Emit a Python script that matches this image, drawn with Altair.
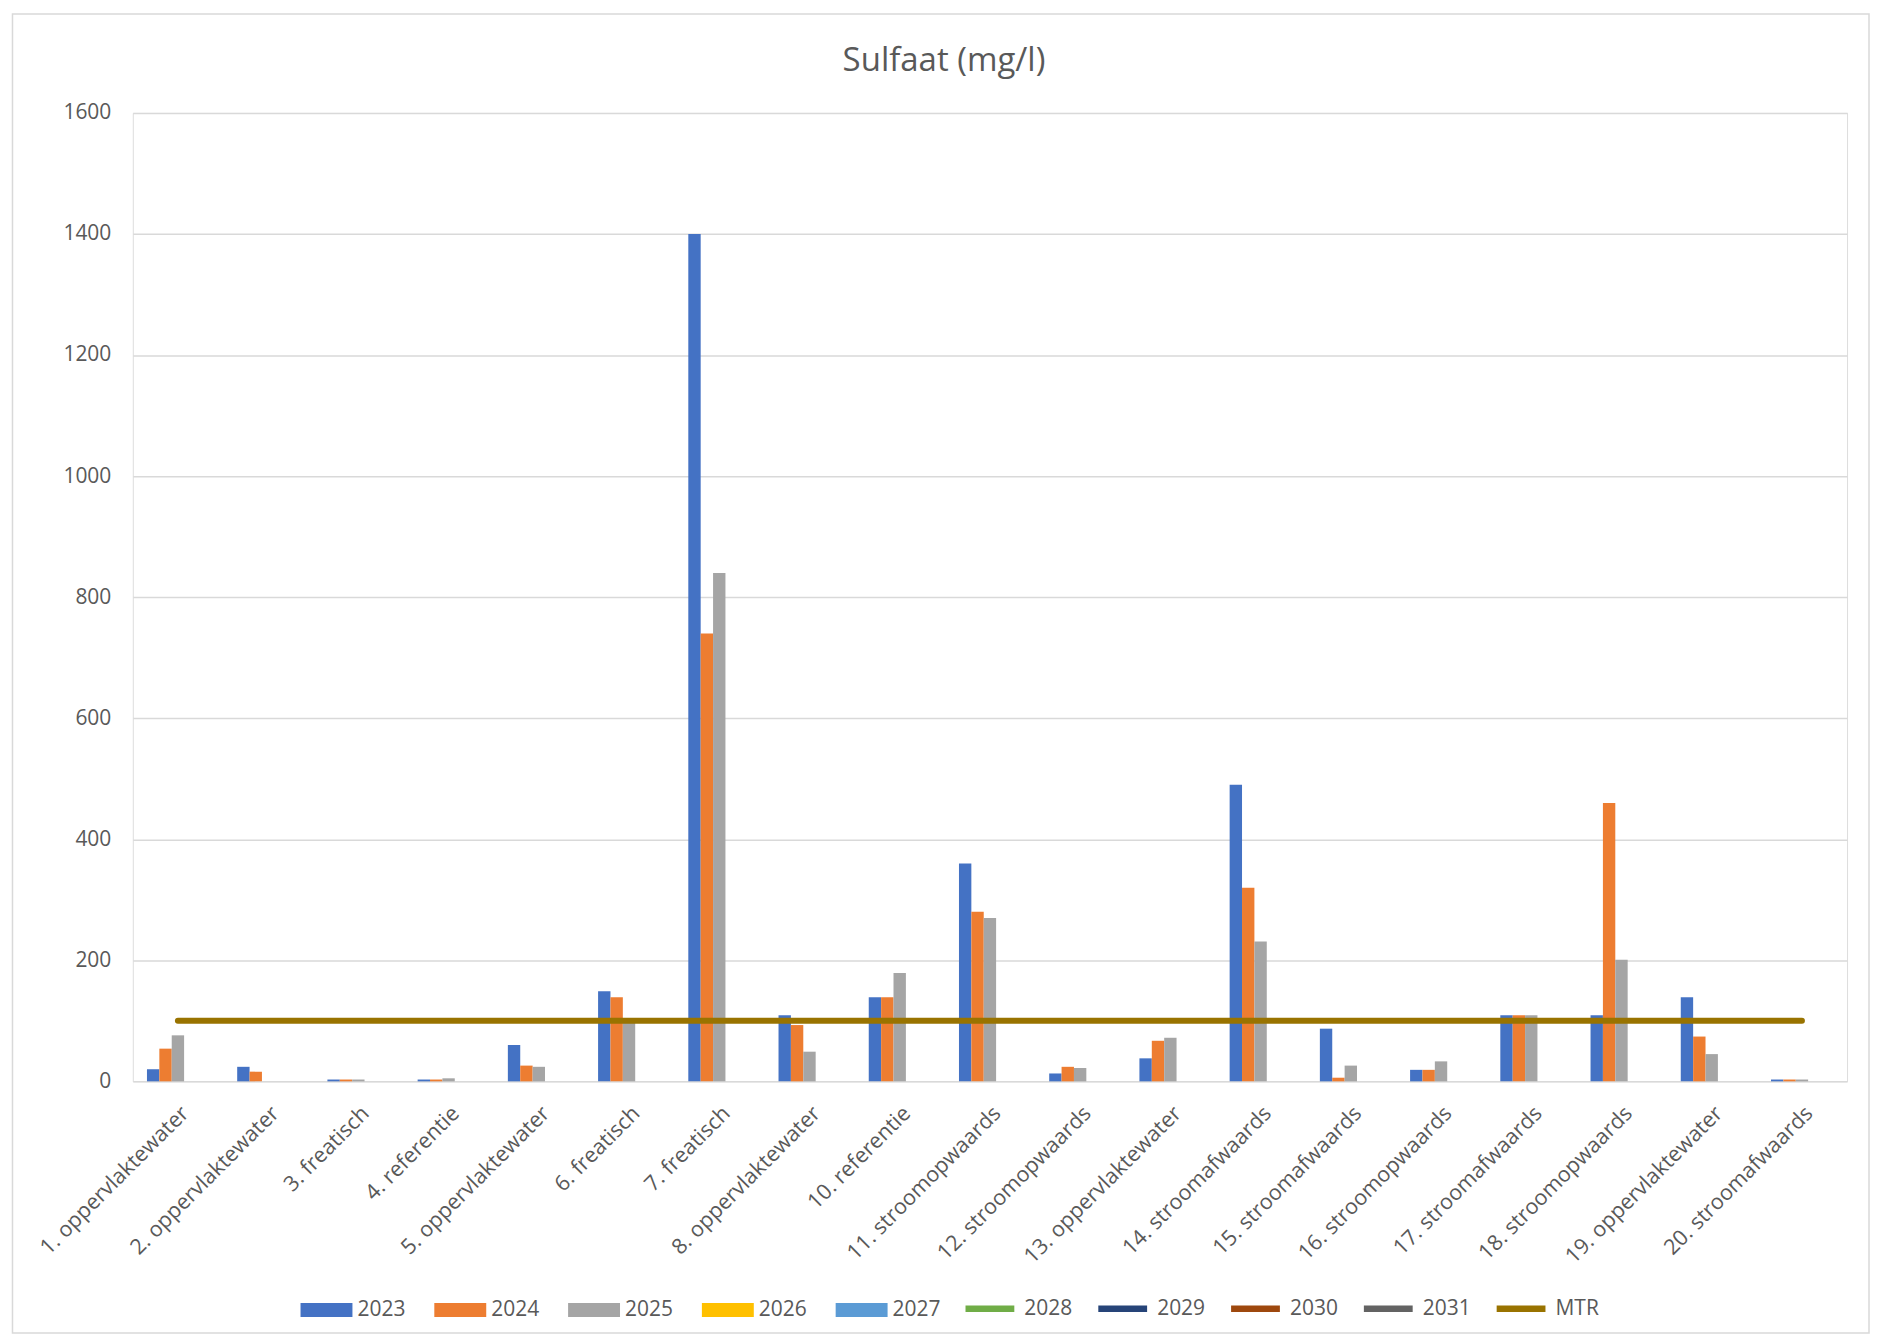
import altair as alt
import pandas as pd

categories = [
    "1. oppervlaktewater", "2. oppervlaktewater", "3. freatisch", "4. referentie",
    "5. oppervlaktewater", "6. freatisch", "7. freatisch", "8. oppervlaktewater",
    "10. referentie", "11. stroomopwaards", "12. stroomopwaards", "13. oppervlaktewater",
    "14. stroomafwaards", "15. stroomafwaards", "16. stroomopwaards", "17. stroomafwaards",
    "18. stroomopwaards", "19. oppervlaktewater", "20. stroomafwaards",
]
v2023 = [20, 24, 3, 3, 60, 149, 1400, 109, 139, 360, 13, 38, 490, 87, 19, 109, 109, 139, 3]
v2024 = [54, 16, 3, 3, 26, 139, 740, 93, 139, 280, 24, 67, 320, 6, 19, 109, 460, 74, 3]
v2025 = [76, None, 3, 5, 24, 100, 840, 49, 179, 270, 22, 72, 231, 26, 33, 109, 201, 45, 3]
mtr_value = 100

bar_series = ["2023", "2024", "2025", "2026", "2027"]
bar_colors = ["#4472C4", "#ED7D31", "#A5A5A5", "#FFC000", "#5B9BD5"]
line_series = ["2028", "2029", "2030", "2031", "MTR"]
line_colors = ["#70AD47", "#264478", "#9E480E", "#636363", "#997300"]

rows = []
for name, vals in [("2023", v2023), ("2024", v2024), ("2025", v2025)]:
    for c, v in zip(categories, vals):
        if v is not None:
            rows.append({"cat": c, "series": name, "value": v})
bars_df = pd.DataFrame(rows)
mtr_df = pd.DataFrame({"cat": categories, "series": "MTR", "value": mtr_value})

FONT = "Open Sans"
TXT = "#595959"

RECT = "M-1,-0.27L1,-0.27L1,0.27L-1,0.27Z"
HLINE = "M-0.94,0L0.94,0"

x_enc = alt.X(
    "cat:N", sort=categories, title=None,
    scale=alt.Scale(paddingInner=0.314, paddingOuter=0.157),
    axis=alt.Axis(labelAngle=-45, labelFont=FONT, labelFontSize=21.5, labelColor=TXT,
                  labelPadding=21, ticks=False, domain=False, grid=False, labelLimit=400),
)
y_enc = alt.Y(
    "value:Q", title=None,
    scale=alt.Scale(domain=[0, 1600], nice=False),
    axis=alt.Axis(values=list(range(0, 1601, 200)), format="d", labelFont=FONT, labelFontSize=21,
                  labelColor=TXT, labelPadding=22, ticks=False, domain=False,
                  grid=True, gridColor="#D9D9D9", gridWidth=1.5),
)

common_legend = dict(
    orient="none", direction="horizontal", columns=5,
    title=None, labelFont=FONT, labelFontSize=21, labelColor=TXT,
    symbolSize=2704, symbolOpacity=1, labelOffset=5,
)

bars = alt.Chart(bars_df).mark_bar().encode(
    x=x_enc, y=y_enc,
    xOffset=alt.XOffset("series:N", scale=alt.Scale(domain=bar_series, paddingInner=0, paddingOuter=0)),
    color=alt.Color(
        "series:N", scale=alt.Scale(domain=bar_series, range=bar_colors),
        legend=alt.Legend(legendX=168, legendY=1173, symbolType=RECT, symbolStrokeWidth=0,
                          columnPadding=28, **common_legend),
    ),
)

line = alt.Chart(mtr_df).mark_line(strokeWidth=6, strokeCap="round").encode(
    x=x_enc, y=y_enc,
    color=alt.Color(
        "series:N", scale=alt.Scale(domain=line_series, range=line_colors),
        legend=alt.Legend(legendX=829, legendY=1168, symbolType=HLINE, symbolStrokeWidth=6.5,
                          columnPadding=12, **common_legend),
    ),
)

border = alt.Chart(pd.DataFrame({"a": [0]})).mark_rect(
    fill=None, stroke="#D9D9D9", strokeWidth=1.5
).encode(
    x=alt.value(-120.5), x2=alt.value(1739), y=alt.value(-99), y2=alt.value(1222)
)

chart = alt.layer(border, bars, line).resolve_scale(
    color="independent"
).properties(
    width=1717, height=970,
    padding={"left": 125, "top": 104, "right": 25, "bottom": 254},
    autosize=alt.AutoSizeParams(type="none"),
    title=alt.TitleParams("Sulfaat (mg/l)", font=FONT, fontSize=33, fontWeight="normal",
                          color=TXT, anchor="middle", dx=-46, offset=-65),
).configure_view(stroke=None).configure(background="white")

chart.save("out.html", embed_options={"renderer": "svg", "actions": False})
